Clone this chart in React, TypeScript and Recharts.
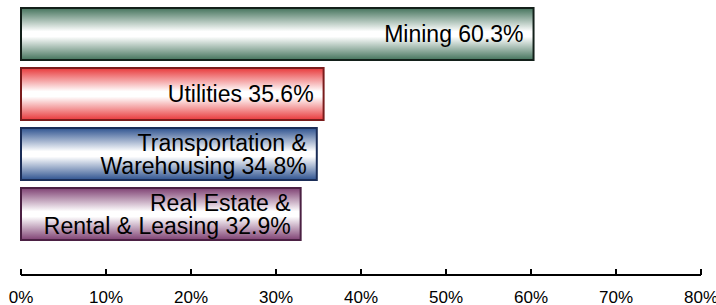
import React from "react";
import { BarChart, Bar, XAxis, YAxis, Cell, LabelList } from "recharts";

const categories = ["Mining", "Utilities", "Transportation & Warehousing", "Real Estate & Rental & Leasing"];
const labelLines = [["Mining"], ["Utilities"], ["Transportation &", "Warehousing"], ["Real Estate &", "Rental & Leasing"]];
const values = [60.3, 35.6, 34.8, 32.9];
const xTicks = [0, 10, 20, 30, 40, 50, 60, 70, 80];
const edgeColors = ["#44735c", "#e8393b", "#2f5390", "#7f4173"];
const strokeColors = ["#13201a", "#7a1c1c", "#1b2d57", "#4b2043"];

const data = categories.map((name, i) => ({ name, value: values[i], lines: labelLines[i] }));

const FONT = "'Liberation Sans', Arial, sans-serif";

const renderLabel = (props: any) => {
  const { x, y, width, height, index } = props;
  const lines: string[] = labelLines[index];
  const v = values[index];
  const right = x + width - 10;
  const cy = y + height / 2;
  const lh = 23;
  const n = lines.length;
  const firstBaseline = cy + 8.2 - ((n - 1) * lh) / 2;
  return (
    <text x={right} y={firstBaseline} textAnchor="end" fontFamily={FONT} fontSize={23} fill="#000">
      {lines.map((l, i) => (
        <tspan key={i} x={right} y={firstBaseline + i * lh}>
          {i === n - 1 ? `${l} ${v}%` : l}
        </tspan>
      ))}
    </text>
  );
};

export default function App() {
  return (
    <div style={{ position: "absolute", left: 0, top: 0, width: 716, height: 305, background: "#fff" }}>
      <BarChart
        width={716}
        height={305}
        data={data}
        layout="vertical"
        margin={{ top: 4, right: 15, left: 21, bottom: 0 }}
        barCategoryGap={4}
      >
        <defs>
          {edgeColors.map((c, i) => (
            <linearGradient key={i} id={`g${i}`} x1="0" y1="0" x2="0" y2="1">
              <stop offset="0" stopColor={c} />
              <stop offset="0.45" stopColor="#ffffff" />
              <stop offset="0.55" stopColor="#ffffff" />
              <stop offset="1" stopColor={c} />
            </linearGradient>
          ))}
        </defs>
        <XAxis
          type="number"
          domain={[0, 80]}
          ticks={xTicks}
          tickFormatter={(v: number) => `${v}%`}
          height={30}
          axisLine={{ stroke: "#000", strokeWidth: 2 }}
          tickLine={{ stroke: "#000", strokeWidth: 2 }}
          tickSize={-6}
          tickMargin={22}
          tick={{ fill: "#000", fontSize: 17, fontFamily: FONT }}
          interval={0}
        />
        <YAxis
          type="category"
          dataKey="name"
          width={0}
          tick={false}
          tickLine={false}
          axisLine={{ stroke: "#000", strokeWidth: 2 }}
          padding={{ top: 0, bottom: 31 }}
        />
        <Bar dataKey="value" isAnimationActive={false} strokeWidth={2}>
          {data.map((d, i) => (
            <Cell key={i} fill={`url(#g${i})`} stroke={strokeColors[i]} />
          ))}
          <LabelList dataKey="value" content={renderLabel} />
        </Bar>
      </BarChart>
    </div>
  );
}
